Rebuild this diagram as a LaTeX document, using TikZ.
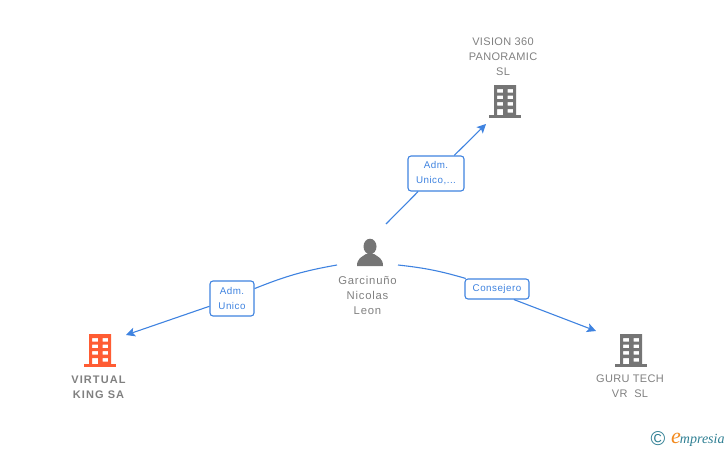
\documentclass[tikz,border=0pt]{standalone}
\usepackage{fontspec}
\usetikzlibrary{arrows.meta}
\setmainfont{Liberation Sans}
\newfontfamily\logofont{Liberation Serif}
\definecolor{linkblue}{HTML}{3F83E0}
\definecolor{namegray}{HTML}{808080}
\definecolor{iconred}{HTML}{FF5C33}
\definecolor{icongray}{HTML}{757575}
\definecolor{logoteal}{HTML}{2F7F93}
\definecolor{logoorange}{HTML}{F28A1E}
\tikzset{
  x=1pt,y=-1pt,
  link/.style={linkblue,line width=1.1pt},
  linkend/.style={link,-{Stealth[length=9pt,width=9pt,inset=2pt]}},
  rolebox/.style={draw=linkblue,line width=1.1pt,rounded corners=3pt,fill=white,text=linkblue,
    font=\fontsize{9.8}{15}\selectfont\addfontfeature{LetterSpace=5},align=center,inner sep=0pt},
  nametext/.style={text=namegray,font=\fontsize{11}{15}\selectfont\addfontfeature{LetterSpace=3},align=center,inner sep=0pt},
  personname/.style={nametext,font=\fontsize{11.3}{15}\selectfont\addfontfeature{LetterSpace=7}},
  boldname/.style={nametext,font=\fontsize{11}{15}\selectfont\bfseries\addfontfeature{LetterSpace=10}},
  pics/building/.style={code={
    \fill[#1,even odd rule] (-11,-16) rectangle (11,15)
      (-8,-12) rectangle (-2,-8.5) (2.5,-12) rectangle (8,-8.5)
      (-8,-5.5) rectangle (-2,-2) (2.5,-5.5) rectangle (8,-2)
      (-8,1) rectangle (-2,4.5) (2.5,1) rectangle (8,4.5)
      (-8,8) rectangle (-2,15) (2.5,8) rectangle (8,11.5);
    \fill[#1] (-16,14) rectangle (15.5,17);
  }},
}
\begin{document}
\begin{tikzpicture}
  \useasboundingbox (0,0) rectangle (728,450);

  % person
  \fill[icongray] (370,246.5) ellipse (6.5 and 7.8);
  \fill[icongray] (357,266) .. controls (357,258) and (362,257) .. (366,254)
     -- (374,254) .. controls (378,257) and (383,258) .. (383,266) -- cycle;
  \node[personname] (person) at (367.5,295) {Garcinuño\\Nicolas\\Leon};

  % companies
  \pic at (505,101) {building=icongray};
  \pic at (100,350) {building=iconred};
  \pic at (631,350) {building=icongray};
  \node[nametext] (vision) at (503,56.5) {VISION 360\\PANORAMIC\\SL};
  \node[boldname] (virtual) at (98.5,387.5) {VIRTUAL\\KING SA};
  \node[nametext] (guru) at (630,386.5) {GURU TECH\\VR\ \ SL};

  % free ends of the connectors
  \coordinate (A0) at (386,224);
  \coordinate (A1) at (486,124);
  \coordinate (B0) at (337,265);
  \coordinate (B1) at (126,335);
  \coordinate (C0) at (398,265);
  \coordinate (C1) at (596,331);

  \node[rolebox,minimum width=56pt,minimum height=35pt] (admA) at (436,173.5) {Adm.\\Unico,...};
  \node[rolebox,minimum width=44pt,minimum height=35pt] (admB) at (232,298.5) {Adm.\\Unico};
  \node[rolebox,minimum width=64pt,minimum height=20pt] (cons) at (497,289) {Consejero};

  \draw[link] (A0) -- (admA);
  \draw[linkend] (admA) -- (A1);
  \draw[link] (B0) to[bend left=-6] (admB);
  \draw[linkend] (admB) -- (B1);
  \draw[link] (C0) to[bend left=5] (cons);
  \draw[linkend] (cons.-32) -- (C1);

  % logo
  \node[text=logoteal,inner sep=0pt,font=\fontsize{20}{20}\selectfont] (copy) at (658,439) {©};
  \node[inner sep=0pt,anchor=base west,font=\logofont\itshape\fontsize{14}{14}\selectfont,text=logoteal] (logo) at (671,443.5)
     {\textcolor{logoorange}{\fontsize{22}{22}\selectfont e}\hspace{-1pt}mpresia};
\end{tikzpicture}
\end{document}
